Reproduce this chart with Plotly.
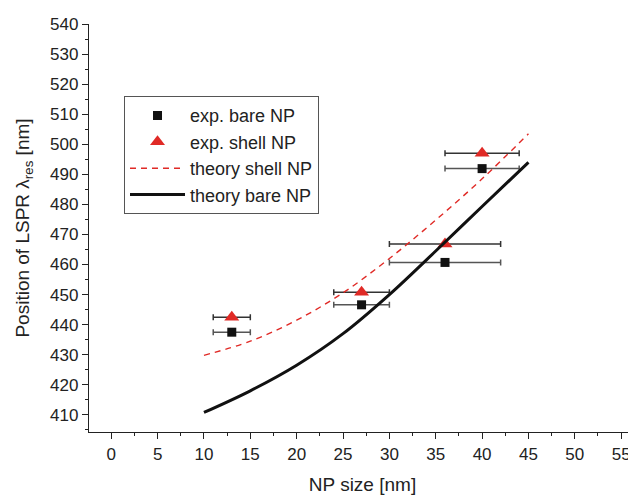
import plotly.graph_objects as go

# Experimental data
exp_size = [13, 27, 36, 40]
exp_size_err = [2, 3, 6, 4]
exp_bare = [437.5, 446.6, 460.7, 491.9]
exp_shell = [442.5, 450.8, 466.8, 497.0]

# Theory curves
th_size = [10, 15, 20, 25, 30, 35, 40, 45]
th_shell = [429.8, 434.5, 441.5, 450.6, 462.0, 474.8, 488.5, 503.5]
th_bare = [410.8, 418.0, 426.5, 437.0, 450.0, 464.5, 479.3, 494.0]

FONT = "Liberation Sans, Arial, Helvetica, sans-serif"

fig = go.Figure()

fig.add_trace(go.Scatter(
    x=exp_size, y=exp_bare, mode="markers", name="exp. bare NP",
    marker=dict(symbol="square", size=9, color="#111111"),
    error_x=dict(type="data", array=exp_size_err, color="#555555", thickness=1.5, width=3),
))
fig.add_trace(go.Scatter(
    x=exp_size, y=exp_shell, mode="markers", name="exp. shell NP",
    marker=dict(symbol="triangle-up", size=13, color="#e02a26"),
    error_x=dict(type="data", array=exp_size_err, color="#333333", thickness=1.5, width=3),
))
fig.add_trace(go.Scatter(
    x=th_size, y=th_shell, mode="lines", name="theory shell NP",
    line=dict(color="#e02a26", width=1.4, dash="6px,5px", shape="spline"),
))
fig.add_trace(go.Scatter(
    x=th_size, y=th_bare, mode="lines", name="theory bare NP",
    line=dict(color="#111111", width=3, shape="spline"),
))

fig.update_layout(
    width=628, height=487,
    margin=dict(l=81, r=0, t=16, b=63, autoexpand=False),
    paper_bgcolor="white", plot_bgcolor="white",
    font=dict(family=FONT, size=17, color="#222222"),
    showlegend=True,
    legend=dict(
        x=0.064, y=0.823, xanchor="left", yanchor="top",
        bgcolor="white", bordercolor="#555555", borderwidth=1,
        font=dict(size=18, color="#222222"),
        itemwidth=55, tracegroupgap=0,
    ),
    xaxis=dict(
        range=[-2.4, 56.6], showgrid=False, zeroline=False, automargin=False,
        showline=True, linecolor="#222222", linewidth=1.3,
        ticks="outside", tickcolor="#222222", ticklen=6, tickwidth=1.3,
        tick0=0, dtick=5,
        minor=dict(ticks="outside", ticklen=3, tickcolor="#222222", dtick=2.5, tick0=0, showgrid=False),
        title=dict(text="NP size [nm]", font=dict(size=19)),
        tickfont=dict(size=17),
    ),
    yaxis=dict(
        range=[404.3, 540], showgrid=False, zeroline=False, automargin=False,
        showline=True, linecolor="#222222", linewidth=1.3,
        ticks="outside", tickcolor="#222222", ticklen=6, tickwidth=1.3,
        tick0=410, dtick=10,
        minor=dict(ticks="outside", ticklen=3, tickcolor="#222222", dtick=5, tick0=410, showgrid=False),
        title=dict(text="Position of LSPR λ<sub>res</sub> [nm]", font=dict(size=19)),
        tickfont=dict(size=17),
    ),
)

fig.write_html("out.html")
